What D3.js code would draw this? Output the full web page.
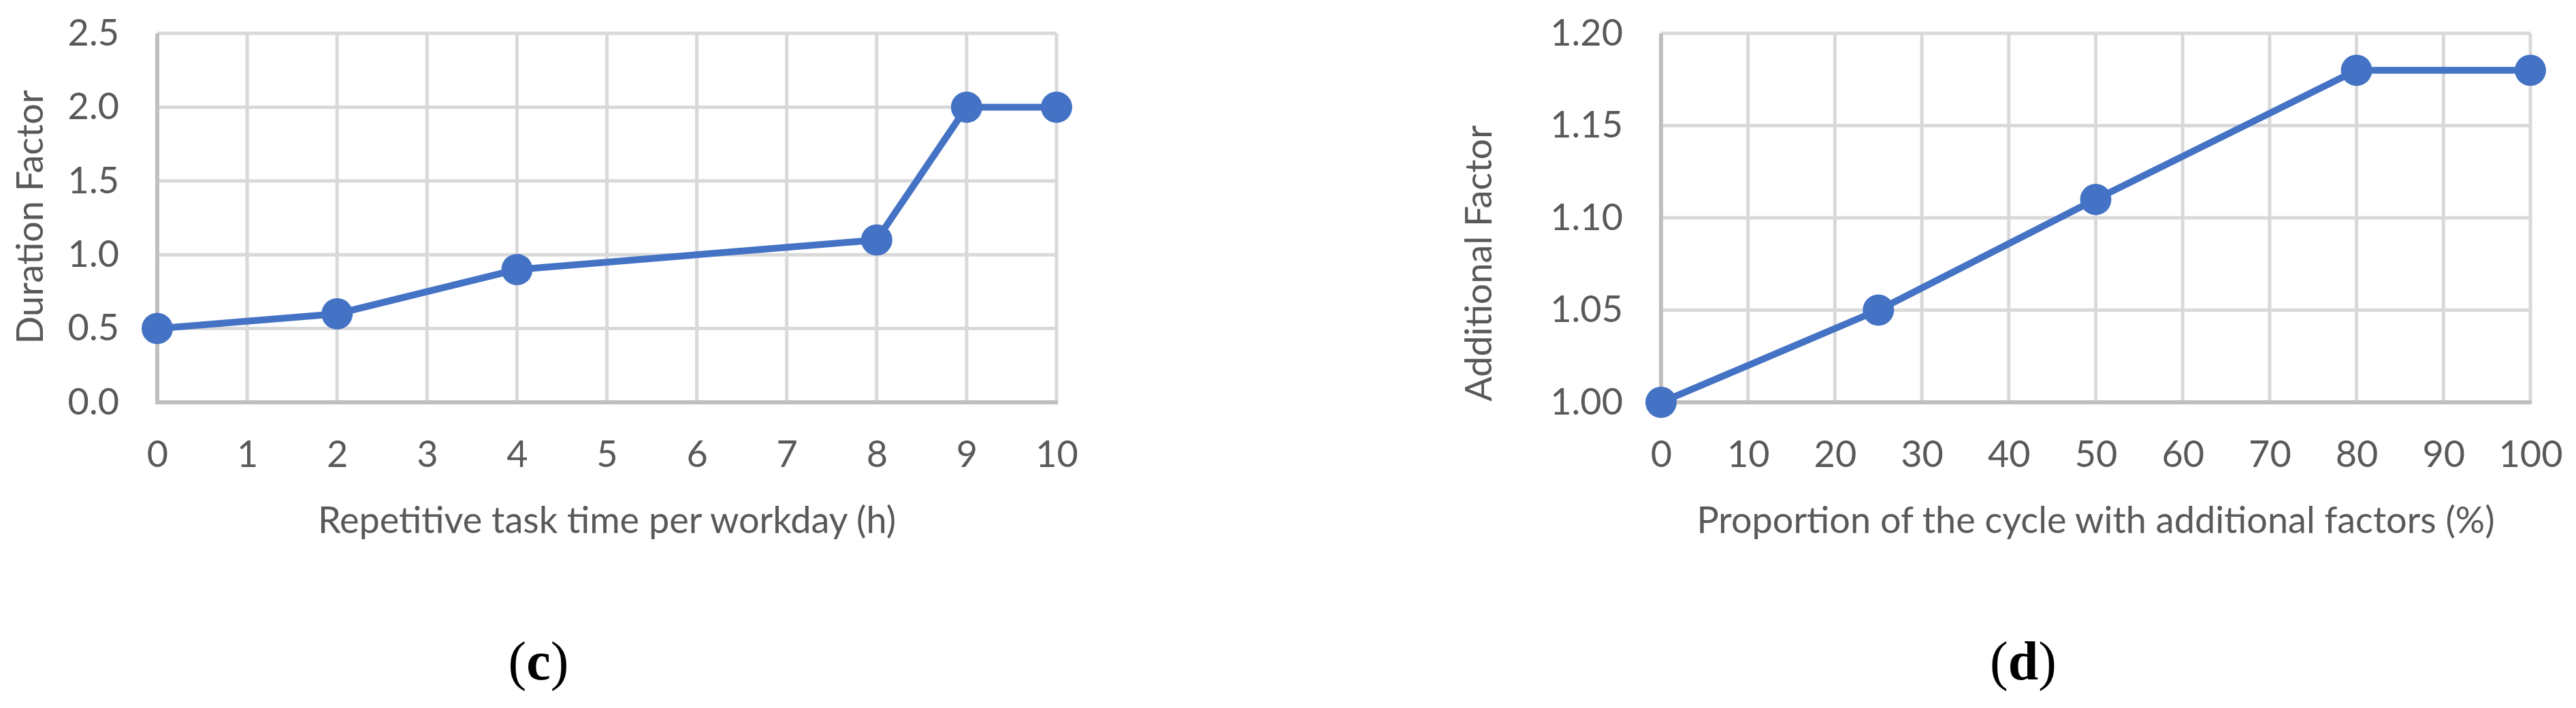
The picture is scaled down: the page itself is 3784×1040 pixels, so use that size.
<!DOCTYPE html>
<html><head><meta charset="utf-8">
<script src="https://cdn.jsdelivr.net/npm/d3@7"></script>
<style>body{margin:0;background:#fff}</style>
</head><body>
<svg id="chart" width="3784" height="1040"></svg>
<script>
// ---- data: panel (c) ----
const durationHours = [0, 2, 4, 8, 9, 10];
const durationFactor = [0.5, 0.6, 0.9, 1.1, 2.0, 2.0];
const durationXTicks = [0, 1, 2, 3, 4, 5, 6, 7, 8, 9, 10];
const durationYTicks = [0.0, 0.5, 1.0, 1.5, 2.0, 2.5];
// ---- data: panel (d) ----
const additionalProportion = [0, 25, 50, 80, 100];
const additionalFactor = [1.00, 1.05, 1.11, 1.18, 1.18];
const additionalXTicks = [0, 10, 20, 30, 40, 50, 60, 70, 80, 90, 100];
const additionalYTicks = [1.00, 1.05, 1.10, 1.15, 1.20];
// ---- texts ----
const panelC = {xTitle: "Repetitive task time per workday (h)", yTitle: "Duration Factor", letter: "c", yFmt: ".1f"};
const panelD = {xTitle: "Proportion of the cycle with additional factors (%)", yTitle: "Additional Factor", letter: "d", yFmt: ".2f"};

const svg = d3.select("#chart");
svg.append("rect").attr("width", 3784).attr("height", 1040).attr("fill", "#fff");

const FONT = "Lato, 'Open Sans', sans-serif";
const FS = 54;
const TXT = "#595959";
const BLUE = "#4472C4";

function drawPanel(cfg) {
  const {xs, ys, xTicks, yTicks, left, right, top, bottom, meta, yTitleX, yTitleY, labelX} = cfg;
  const x = d3.scaleLinear().domain([xTicks[0], xTicks[xTicks.length - 1]]).range([left, right]);
  const y = d3.scaleLinear().domain([yTicks[0], yTicks[yTicks.length - 1]]).range([bottom, top]);
  const g = svg.append("g");

  // gridlines
  g.selectAll("line.hg").data(yTicks.slice(1)).join("line")
    .attr("x1", left).attr("x2", right).attr("y1", d => y(d)).attr("y2", d => y(d))
    .attr("stroke", "#d9d9d9").attr("stroke-width", 5);
  g.selectAll("line.vg").data(xTicks.slice(1)).join("line")
    .attr("x1", d => x(d)).attr("x2", d => x(d)).attr("y1", top).attr("y2", bottom)
    .attr("stroke", "#d9d9d9").attr("stroke-width", 5);
  // axis lines
  g.append("line").attr("x1", left).attr("x2", left).attr("y1", top).attr("y2", bottom + 3)
    .attr("stroke", "#bfbfbf").attr("stroke-width", 6);
  g.append("line").attr("x1", left).attr("x2", right + 2).attr("y1", bottom).attr("y2", bottom)
    .attr("stroke", "#bfbfbf").attr("stroke-width", 6);

  // axes (labels only)
  const ya = g.append("g").attr("transform", `translate(${left},0)`)
    .call(d3.axisLeft(y).tickValues(yTicks).tickFormat(d3.format(meta.yFmt)).tickSize(0).tickPadding(56));
  const xa = g.append("g").attr("transform", `translate(0,${bottom})`)
    .call(d3.axisBottom(x).tickValues(xTicks).tickFormat(d3.format("d")).tickSize(0).tickPadding(57));
  [ya, xa].forEach(a => {
    a.select(".domain").remove();
    a.selectAll("text").attr("fill", TXT).style("font-family", FONT).style("font-size", FS + "px");
  });

  // axis titles
  g.append("text").attr("x", (left + right) / 2).attr("y", 783)
    .attr("text-anchor", "middle").attr("fill", TXT)
    .style("font-family", FONT).style("font-size", FS + "px").text(meta.xTitle);
  g.append("text").attr("transform", `translate(${yTitleX},${yTitleY}) rotate(-90)`)
    .attr("text-anchor", "middle").attr("fill", TXT)
    .style("font-family", FONT).style("font-size", FS + "px").text(meta.yTitle);

  // series
  const pts = xs.map((v, i) => [v, ys[i]]);
  g.append("path").datum(pts)
    .attr("d", d3.line().x(d => x(d[0])).y(d => y(d[1])))
    .attr("fill", "none").attr("stroke", BLUE).attr("stroke-width", 10)
    .attr("stroke-linejoin", "round");
  g.selectAll("circle").data(pts).join("circle")
    .attr("cx", d => x(d[0])).attr("cy", d => y(d[1])).attr("r", 23).attr("fill", BLUE);

  // panel label
  const t = g.append("text").attr("x", labelX).attr("y", 998).attr("text-anchor", "middle")
    .style("font-family", "'Liberation Serif', 'DejaVu Serif', serif").style("font-size", "80px").attr("fill", "#000");
  t.append("tspan").text("(");
  t.append("tspan").attr("font-weight", "bold").text(meta.letter);
  t.append("tspan").text(")");
}

drawPanel({xs: durationHours, ys: durationFactor, xTicks: durationXTicks, yTicks: durationYTicks,
  left: 231, right: 1552, top: 49, bottom: 591, meta: panelC, yTitleX: 63, yTitleY: 319, labelX: 791});
drawPanel({xs: additionalProportion, ys: additionalFactor, xTicks: additionalXTicks, yTicks: additionalYTicks,
  left: 2440, right: 3717, top: 49, bottom: 591, meta: panelD, yTitleX: 2191, yTitleY: 387, labelX: 2972});
</script>
</body></html>
